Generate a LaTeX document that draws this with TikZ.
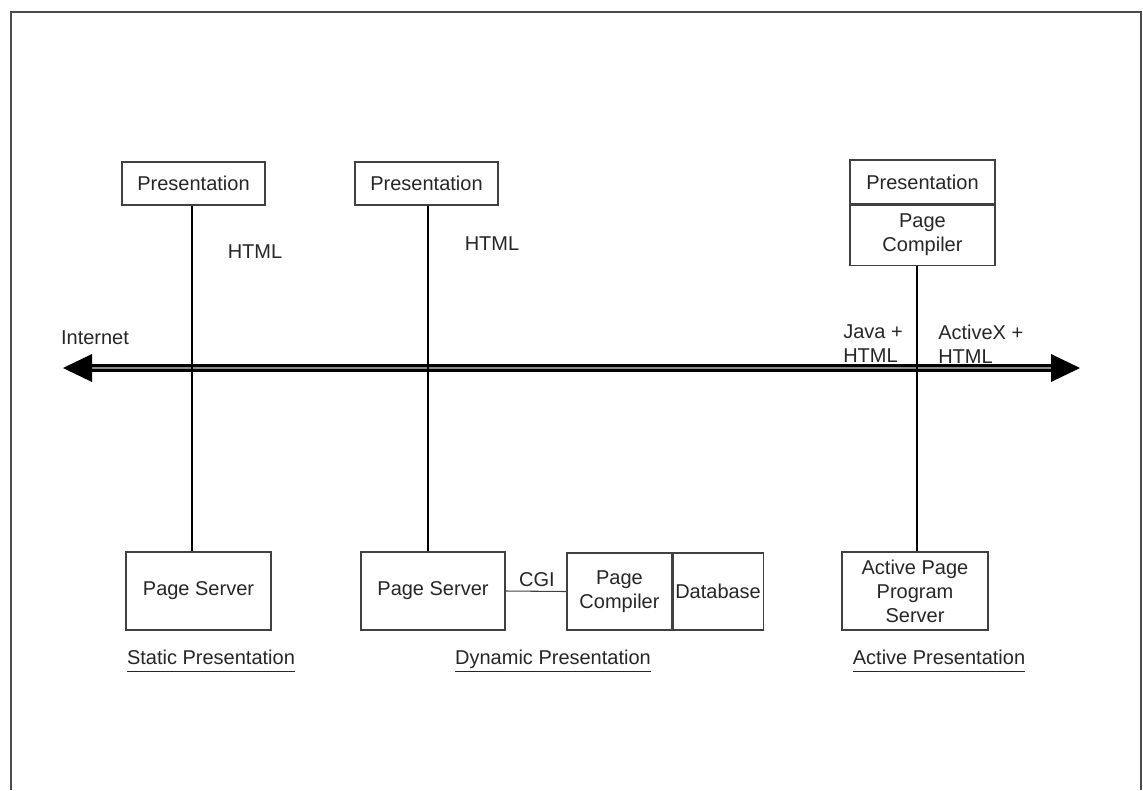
\documentclass[tikz,border=0pt]{standalone}
\usepackage{fontspec}
\setmainfont{Liberation Sans}
\begin{document}
\begin{tikzpicture}[x=0.75pt,y=-0.75pt,
  txt/.style={text=black!85,font=\fontsize{15}{18}\selectfont,align=center,inner sep=0pt},
  box/.style={txt,draw=black!75,line width=0.8pt},
  stem/.style={draw=black,line width=2pt},
  link/.style={draw=black!75,line width=0.8pt},
  net/.style={draw=black,line width=1.8pt,double=black!45,double distance=2pt},
  tip/.style={fill=black,draw=none}]
\useasboundingbox (0,0) rectangle (1143,790);
\draw[black!70,line width=1pt] (11,790) -- (11,12) -- (1141,12) -- (1141,790);

% top boxes
\node[box,minimum width=107.25pt,minimum height=32.25pt] (p1) at (193.5,183.5) {Presentation};
\node[box,minimum width=107.25pt,minimum height=32.25pt] (p2) at (426.5,183.5) {Presentation};
\node[box,minimum width=108.75pt,minimum height=33pt] (p3) at (922.5,182) {Presentation};
\node[box,minimum width=108.75pt,minimum height=45pt,anchor=north] (pc3) at (p3.south) {Page\\Compiler};

% bottom boxes
\node[box,minimum width=108.75pt,minimum height=58.5pt] (s1) at (198.5,591) {Page Server};
\node[box,minimum width=108pt,minimum height=58.5pt] (s2) at (433,591) {Page Server};
\node[box,minimum width=78.75pt,minimum height=57.75pt] (pc2) at (619.5,591.5) {Page\\Compiler};
\node[box,minimum width=67.5pt,minimum height=57.75pt,anchor=west] (db) at (pc2.east) {Database};
\node[box,minimum width=109.5pt,minimum height=58.5pt] (aps) at (915,591) {Active Page\\Program\\Server};

% labels
\node[txt] (h1) at (255,252) {HTML};
\node[txt] (h2) at (492,244) {HTML};
\node[txt] (inet) at (95,338) {Internet};
\node[txt,align=left,anchor=west] (jv) at (843,344) {Java +\\HTML};
\node[txt,align=left,anchor=west] (ax) at (938,344) {ActiveX +\\HTML};
\node[txt] (cgi) at (537,580) {CGI};
\node[txt] (l1) at (211,661) {\underline{\vphantom{y}Static Presentation}};
\node[txt] (l2) at (553,661) {\underline{\vphantom{y}Dynamic Presentation}};
\node[txt] (l3) at (939,661) {\underline{\vphantom{y}Active Presentation}};

% internet arrow
\coordinate (wl) at (63,368);
\coordinate (wr) at (1080,368);
\draw[net] ([xshift=20pt]wl) -- ([xshift=-20pt]wr);
\fill[tip] (wl) -- ++(29,-14) -- ++(0,28) -- cycle;
\fill[tip] (wr) -- ++(-29,-14) -- ++(0,28) -- cycle;

% stems
\draw[stem] (p1.south -| 192,0) -- (s1.north -| 192,0);
\draw[stem] (p2.south -| 428,0) -- (s2.north -| 428,0);
\draw[stem] (pc3.south -| 917,0) -- (aps.north -| 917,0);
\draw[link] (s2.east) -- (pc2.west);
\end{tikzpicture}
\end{document}
